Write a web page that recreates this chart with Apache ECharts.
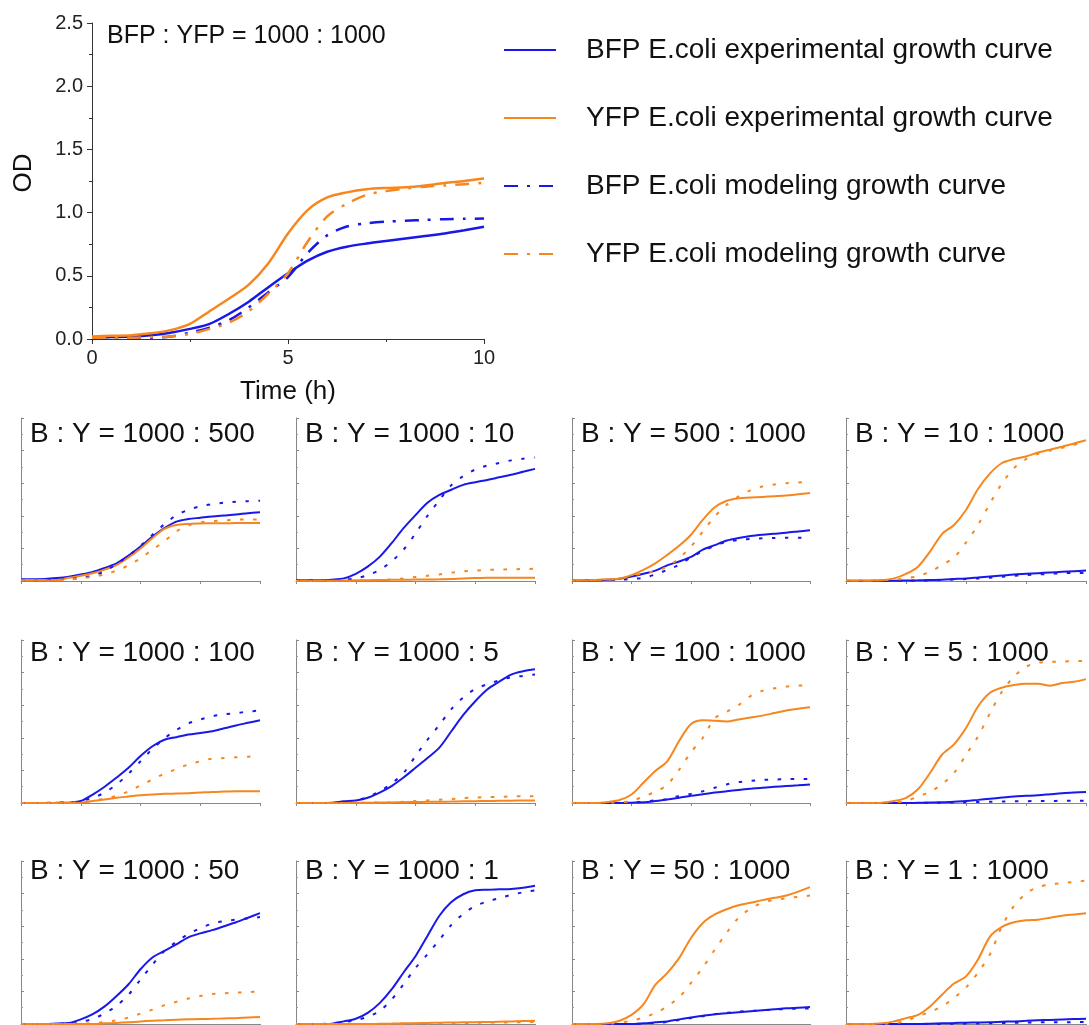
<!DOCTYPE html>
<html>
<head>
<meta charset="utf-8">
<script src="https://cdn.jsdelivr.net/npm/echarts@6/dist/echarts.min.js"></script>
<style>html,body{margin:0;padding:0;background:#fff}#c{width:1089px;height:1025px}</style>
</head>
<body>
<div id="c"></div>
<script>
// Time points (h)
const T = [0,0.5,1,1.5,2,2.5,3,3.5,4,4.5,5,5.5,6,6.5,7,7.5,8,8.5,9,9.5,10];

const seriesNames = ['BFP E.coli experimental growth curve','YFP E.coli experimental growth curve','BFP E.coli modeling growth curve','YFP E.coli modeling growth curve'];
const panelTitles = ['BFP : YFP = 1000 : 1000',
  'B : Y = 1000 : 500','B : Y = 1000 : 10','B : Y = 500 : 1000','B : Y = 10 : 1000',
  'B : Y = 1000 : 100','B : Y = 1000 : 5','B : Y = 100 : 1000','B : Y = 5 : 1000',
  'B : Y = 1000 : 50','B : Y = 1000 : 1','B : Y = 50 : 1000','B : Y = 1 : 1000'];
const yTicks = [0,0.5,1,1.5,2,2.5];
const xTicks = [0,5,10];

// Main panel 1000:1000
const m_bExp = [0.01,0.015,0.02,0.03,0.05,0.08,0.12,0.2,0.295,0.41,0.52,0.62,0.69,0.73,0.755,0.775,0.795,0.815,0.835,0.86,0.888];
const m_yExp = [0.02,0.025,0.03,0.045,0.07,0.12,0.22,0.32,0.43,0.6,0.835,1.02,1.12,1.16,1.185,1.195,1.2,1.215,1.235,1.25,1.27];
const m_bMod = [0,0.002,0.005,0.01,0.02,0.05,0.09,0.15,0.25,0.37,0.49,0.68,0.82,0.89,0.915,0.928,0.935,0.942,0.948,0.951,0.953];
const m_yMod = [0.01,0.01,0.01,0.015,0.02,0.04,0.08,0.13,0.22,0.36,0.52,0.77,0.97,1.07,1.14,1.17,1.19,1.205,1.215,1.225,1.235];

// 1000:500
const p1_bExp = [0.025,0.027,0.03,0.045,0.067,0.1,0.14,0.2,0.27,0.39,0.53,0.68,0.81,0.91,0.95,0.97,0.99,1.005,1.02,1.04,1.055];
const p1_yExp = [0.015,0.015,0.015,0.015,0.05,0.08,0.12,0.175,0.245,0.36,0.5,0.66,0.8,0.86,0.876,0.882,0.886,0.887,0.888,0.889,0.89];
const p1_bMod = [0.005,0.007,0.01,0.02,0.03,0.05,0.08,0.15,0.26,0.39,0.54,0.71,0.87,1.01,1.09,1.145,1.18,1.2,1.215,1.225,1.23];
const p1_yMod = [0.005,0.006,0.008,0.012,0.02,0.04,0.065,0.1,0.16,0.24,0.35,0.48,0.61,0.76,0.85,0.9,0.92,0.93,0.94,0.943,0.945];
// 1000:10
const p2_bExp = [0.01,0.01,0.01,0.02,0.04,0.11,0.22,0.37,0.58,0.81,1.01,1.2,1.32,1.4,1.475,1.515,1.55,1.59,1.63,1.675,1.72];
const p2_yExp = [0.005,0.005,0.005,0.005,0.008,0.01,0.012,0.015,0.018,0.02,0.022,0.024,0.026,0.03,0.04,0.045,0.048,0.049,0.05,0.05,0.05];
const p2_bMod = [0.005,0.006,0.008,0.012,0.02,0.04,0.09,0.17,0.3,0.48,0.73,1.0,1.24,1.47,1.61,1.71,1.77,1.81,1.85,1.875,1.895];
const p2_yMod = [0,0.001,0.002,0.004,0.006,0.008,0.01,0.014,0.025,0.04,0.06,0.08,0.1,0.128,0.15,0.16,0.17,0.175,0.18,0.184,0.187];
// 500:1000
const p3_bExp = [0.005,0.008,0.01,0.02,0.036,0.067,0.11,0.16,0.24,0.3,0.37,0.48,0.55,0.62,0.66,0.69,0.71,0.725,0.74,0.76,0.78];
const p3_yExp = [0.005,0.01,0.015,0.025,0.04,0.09,0.17,0.27,0.4,0.54,0.71,0.94,1.13,1.23,1.27,1.28,1.29,1.3,1.31,1.33,1.35];
const p3_bMod = [0.005,0.007,0.01,0.015,0.02,0.03,0.05,0.1,0.17,0.25,0.36,0.46,0.54,0.6,0.63,0.645,0.655,0.66,0.665,0.665,0.665];
const p3_yMod = [0.005,0.007,0.01,0.02,0.03,0.08,0.12,0.15,0.22,0.35,0.53,0.76,0.99,1.17,1.3,1.39,1.45,1.48,1.5,1.51,1.52];
// 10:1000
const p4_bExp = [0.005,0.005,0.005,0.005,0.005,0.007,0.01,0.015,0.02,0.03,0.04,0.055,0.07,0.085,0.1,0.11,0.12,0.13,0.14,0.15,0.16];
const p4_yExp = [0.005,0.005,0.005,0.015,0.04,0.11,0.22,0.45,0.72,0.86,1.09,1.41,1.65,1.81,1.87,1.91,1.97,2.015,2.06,2.11,2.16];
const p4_bMod = [0,0,0,0,0.002,0.004,0.007,0.01,0.015,0.022,0.03,0.04,0.05,0.065,0.08,0.09,0.1,0.11,0.12,0.123,0.125];
const p4_yMod = [0.005,0.006,0.008,0.012,0.02,0.04,0.08,0.14,0.245,0.36,0.59,0.86,1.19,1.5,1.73,1.87,1.95,2.0,2.04,2.09,2.13];
// 1000:100
const p5_bExp = [0,0,0,0.002,0.005,0.03,0.13,0.25,0.39,0.54,0.72,0.87,0.97,1.01,1.05,1.075,1.1,1.145,1.19,1.23,1.27];
const p5_yExp = [0,0,0,0,0,0.005,0.03,0.055,0.08,0.1,0.12,0.13,0.14,0.145,0.15,0.16,0.17,0.175,0.18,0.18,0.18];
const p5_bMod = [0,0,0.002,0.005,0.01,0.03,0.08,0.16,0.285,0.45,0.64,0.83,0.99,1.12,1.22,1.28,1.33,1.36,1.38,1.4,1.42];
const p5_yMod = [0,0,0,0.002,0.005,0.01,0.03,0.07,0.11,0.18,0.27,0.36,0.45,0.52,0.59,0.64,0.68,0.69,0.7,0.71,0.72];
// 1000:5
const p6_bExp = [0,0,0,0.005,0.025,0.04,0.08,0.16,0.26,0.39,0.54,0.69,0.85,1.1,1.35,1.56,1.74,1.86,1.97,2.02,2.05];
const p6_yExp = [0,0,0,0,0,0.002,0.004,0.006,0.008,0.012,0.015,0.018,0.02,0.022,0.025,0.028,0.03,0.033,0.035,0.038,0.04];
const p6_bMod = [0,0,0,0.005,0.01,0.04,0.09,0.18,0.3,0.46,0.72,0.97,1.2,1.44,1.62,1.75,1.82,1.88,1.93,1.95,1.97];
const p6_yMod = [0,0,0,0,0.002,0.004,0.006,0.008,0.01,0.02,0.03,0.04,0.05,0.062,0.075,0.083,0.09,0.095,0.1,0.103,0.105];
// 100:1000
const p7_bExp = [0,0,0,0,0,0.005,0.01,0.03,0.055,0.08,0.11,0.135,0.16,0.18,0.2,0.218,0.235,0.248,0.26,0.272,0.285];
const p7_yExp = [0,0,0,0.015,0.045,0.13,0.31,0.49,0.64,0.95,1.21,1.27,1.26,1.25,1.28,1.31,1.34,1.38,1.42,1.445,1.47];
const p7_bMod = [0,0,0,0,0.005,0.01,0.02,0.04,0.06,0.11,0.14,0.18,0.235,0.285,0.32,0.34,0.355,0.36,0.365,0.368,0.37];
const p7_yMod = [0,0,0,0.005,0.01,0.03,0.1,0.17,0.28,0.51,0.78,1.0,1.3,1.4,1.5,1.64,1.72,1.76,1.785,1.8,1.81];
// 5:1000
const p8_bExp = [0,0,0,0,0,0,0.003,0.006,0.01,0.02,0.03,0.048,0.066,0.083,0.1,0.11,0.12,0.135,0.15,0.16,0.17];
const p8_yExp = [0,0,0,0.005,0.03,0.08,0.21,0.46,0.74,0.9,1.15,1.48,1.69,1.77,1.81,1.83,1.83,1.8,1.84,1.86,1.9];
const p8_bMod = [0,0,0,0,0,0,0.002,0.004,0.005,0.008,0.01,0.015,0.02,0.023,0.025,0.028,0.03,0.032,0.033,0.034,0.035];
const p8_yMod = [0,0,0,0.005,0.01,0.03,0.1,0.17,0.29,0.46,0.74,1.02,1.38,1.71,1.94,2.09,2.15,2.165,2.17,2.175,2.18];
// 1000:50
const p9_bExp = [0,0,0,0.008,0.015,0.07,0.15,0.27,0.43,0.61,0.84,1.02,1.12,1.22,1.33,1.39,1.44,1.5,1.56,1.63,1.7];
const p9_yExp = [0,0,0,0,0,0,0,0.01,0.015,0.025,0.04,0.05,0.057,0.065,0.072,0.076,0.08,0.085,0.09,0.1,0.108];
const p9_bMod = [0,0,0,0.005,0.01,0.035,0.077,0.165,0.28,0.45,0.68,0.91,1.12,1.26,1.38,1.47,1.54,1.58,1.6,1.62,1.64];
const p9_yMod = [0,0,0,0,0.002,0.005,0.01,0.03,0.057,0.1,0.16,0.22,0.29,0.34,0.39,0.43,0.46,0.47,0.48,0.49,0.5];
// 1000:1
const p10_bExp = [0,0,0,0.005,0.04,0.08,0.17,0.32,0.53,0.79,1.04,1.35,1.66,1.87,1.99,2.05,2.06,2.065,2.07,2.09,2.12];
const p10_yExp = [0,0,0,0,0,0,0,0.003,0.006,0.01,0.013,0.016,0.02,0.023,0.026,0.028,0.03,0.035,0.04,0.045,0.05];
const p10_bMod = [0,0,0,0.01,0.03,0.06,0.11,0.2,0.375,0.61,0.86,1.07,1.29,1.52,1.69,1.81,1.88,1.93,1.98,2.02,2.05];
const p10_yMod = [0,0,0,0,0,0,0,0,0.002,0.004,0.006,0.008,0.01,0.013,0.015,0.018,0.02,0.023,0.025,0.028,0.03];
// 50:1000
const p11_bExp = [0,0,0,0,0,0,0.01,0.025,0.04,0.07,0.1,0.125,0.15,0.165,0.18,0.195,0.21,0.225,0.24,0.25,0.26];
const p11_yExp = [0,0,0,0.01,0.05,0.14,0.3,0.6,0.78,1.01,1.32,1.55,1.68,1.76,1.82,1.86,1.9,1.935,1.97,2.03,2.1];
const p11_bMod = [0,0,0,0,0,0,0.008,0.018,0.03,0.06,0.09,0.12,0.15,0.17,0.19,0.2,0.21,0.22,0.23,0.235,0.24];
const p11_yMod = [0,0,0,0.005,0.02,0.05,0.1,0.165,0.27,0.41,0.63,0.87,1.14,1.4,1.63,1.77,1.86,1.9,1.93,1.95,1.97];
// 1:1000
const p12_bExp = [0,0,0,0,0,0,0,0.005,0.01,0.015,0.02,0.022,0.025,0.033,0.04,0.048,0.057,0.063,0.07,0.075,0.08];
const p12_yExp = [0,0,0,0.01,0.04,0.09,0.14,0.27,0.45,0.62,0.73,0.99,1.34,1.49,1.56,1.59,1.6,1.63,1.66,1.68,1.7];
const p12_bMod = [0,0,0,0,0,0,0,0,0.002,0.004,0.006,0.008,0.01,0.014,0.018,0.022,0.025,0.027,0.028,0.029,0.03];
const p12_yMod = [0,0,0,0.005,0.01,0.05,0.12,0.185,0.27,0.4,0.56,0.79,1.07,1.5,1.81,2.0,2.1,2.14,2.16,2.18,2.2];

const panels = [
  [m_bExp,m_yExp,m_bMod,m_yMod],
  [p1_bExp,p1_yExp,p1_bMod,p1_yMod],[p2_bExp,p2_yExp,p2_bMod,p2_yMod],[p3_bExp,p3_yExp,p3_bMod,p3_yMod],[p4_bExp,p4_yExp,p4_bMod,p4_yMod],
  [p5_bExp,p5_yExp,p5_bMod,p5_yMod],[p6_bExp,p6_yExp,p6_bMod,p6_yMod],[p7_bExp,p7_yExp,p7_bMod,p7_yMod],[p8_bExp,p8_yExp,p8_bMod,p8_yMod],
  [p9_bExp,p9_yExp,p9_bMod,p9_yMod],[p10_bExp,p10_yExp,p10_bMod,p10_yMod],[p11_bExp,p11_yExp,p11_bMod,p11_yMod],[p12_bExp,p12_yExp,p12_bMod,p12_yMod]
];

const BLUE = '#1818e8', ORANGE = '#f6871f';
const FONT = '"Liberation Sans", Arial, sans-serif';
const colors = [BLUE, ORANGE, BLUE, ORANGE];

const colLeft = [21, 296, 572, 846];
const colWidth = [239, 239, 238, 240];
const rowTop = [418, 640, 861];
const rowTitleTop = [420, 639, 857];
const panelH = 163;

const grids = [{left: 92, top: 23, width: 392, height: 316}];
const titles = [{text: panelTitles[0], left: 107, top: 24, padding: 0,
  textStyle: {fontFamily: FONT, fontSize: 25, fontWeight: 'normal', color: '#111'}}];
for (let i = 0; i < 12; i++) {
  const r = Math.floor(i / 4), c = i % 4;
  grids.push({left: colLeft[c], top: rowTop[r], width: colWidth[c], height: panelH});
  titles.push({text: panelTitles[i + 1], left: colLeft[c] + 9, top: rowTitleTop[r], padding: 0,
    textStyle: {fontFamily: FONT, fontSize: 28, fontWeight: 'normal', color: '#111'}});
}

const xAxes = [], yAxes = [];
xAxes.push({gridIndex: 0, type: 'value', min: 0, max: 10, interval: 5,
  name: 'Time (h)', nameLocation: 'middle', nameGap: 40,
  nameTextStyle: {fontFamily: FONT, fontSize: 26, color: '#111'},
  axisLine: {lineStyle: {color: '#333', width: 1}},
  axisTick: {length: 5, lineStyle: {color: '#333'}},
  minorTick: {show: true, splitNumber: 2, length: 3, lineStyle: {color: '#333'}},
  axisLabel: {fontFamily: FONT, fontSize: 20, color: '#222', margin: 9,
    formatter: v => xTicks.includes(v) ? String(v) : ''},
  splitLine: {show: false}});
yAxes.push({gridIndex: 0, type: 'value', min: 0, max: 2.5, interval: 0.5,
  name: 'OD', nameLocation: 'middle', nameGap: 55, nameRotate: 90,
  nameTextStyle: {fontFamily: FONT, fontSize: 26, color: '#111', padding: [0, 0, 0, 16]},
  axisLine: {show: true, lineStyle: {color: '#333', width: 1}},
  axisTick: {show: true, length: 5, lineStyle: {color: '#333'}},
  minorTick: {show: true, splitNumber: 2, length: 3, lineStyle: {color: '#333'}},
  axisLabel: {fontFamily: FONT, fontSize: 20, color: '#222', margin: 9,
    formatter: v => yTicks.includes(v) ? v.toFixed(1) : ''},
  splitLine: {show: false}});
for (let i = 1; i <= 12; i++) {
  xAxes.push({gridIndex: i, type: 'value', min: 0, max: 10, interval: 2.5,
    axisLine: {lineStyle: {color: '#888', width: 1}},
    axisTick: {length: 3, lineStyle: {color: '#888'}},
    axisLabel: {show: false}, splitLine: {show: false}});
  yAxes.push({gridIndex: i, type: 'value', min: 0, max: 2.5, interval: 0.5,
    axisLine: {show: true, lineStyle: {color: '#888', width: 1}},
    axisTick: {show: true, inside: true, length: 3, lineStyle: {color: '#888'}},
    minorTick: {show: true, splitNumber: 2, length: 2, lineStyle: {color: '#999'}},
    axisLabel: {show: false}, splitLine: {show: false}});
}

const series = [];
panels.forEach((arrs, p) => {
  arrs.forEach((vals, k) => {
    const isModel = k >= 2;
    let lineStyle;
    if (p === 0) {
      lineStyle = {color: colors[k], width: 2.5, type: isModel ? [14, 9, 3, 9] : 'solid'};
    } else {
      lineStyle = {color: colors[k], width: 2, type: isModel ? [3.5, 9.5] : 'solid'};
    }
    series.push({
      type: 'line', name: seriesNames[k], xAxisIndex: p, yAxisIndex: p,
      data: T.map((t, i) => [t, vals[i]]),
      smooth: 0.3, symbol: 'none', showSymbol: false, silent: true,
      lineStyle: lineStyle, itemStyle: {color: colors[k]},
      z: isModel ? 3 : 2, animation: false
    });
  });
});

const chart = echarts.init(document.getElementById('c'), null, {renderer: 'canvas'});
chart.setOption({
  backgroundColor: '#fff',
  animation: false,
  title: titles,
  legend: {
    orient: 'vertical', left: 503, top: 36, padding: 0,
    itemWidth: 52, itemHeight: 14, itemGap: 40,
    selectedMode: false,
    itemStyle: {opacity: 0},
    textStyle: {fontFamily: FONT, fontSize: 28, color: '#111', lineHeight: 28, padding: [0, 0, 0, 25]},
    data: seriesNames
  },
  grid: grids,
  xAxis: xAxes,
  yAxis: yAxes,
  series: series
});
</script>
</body>
</html>
